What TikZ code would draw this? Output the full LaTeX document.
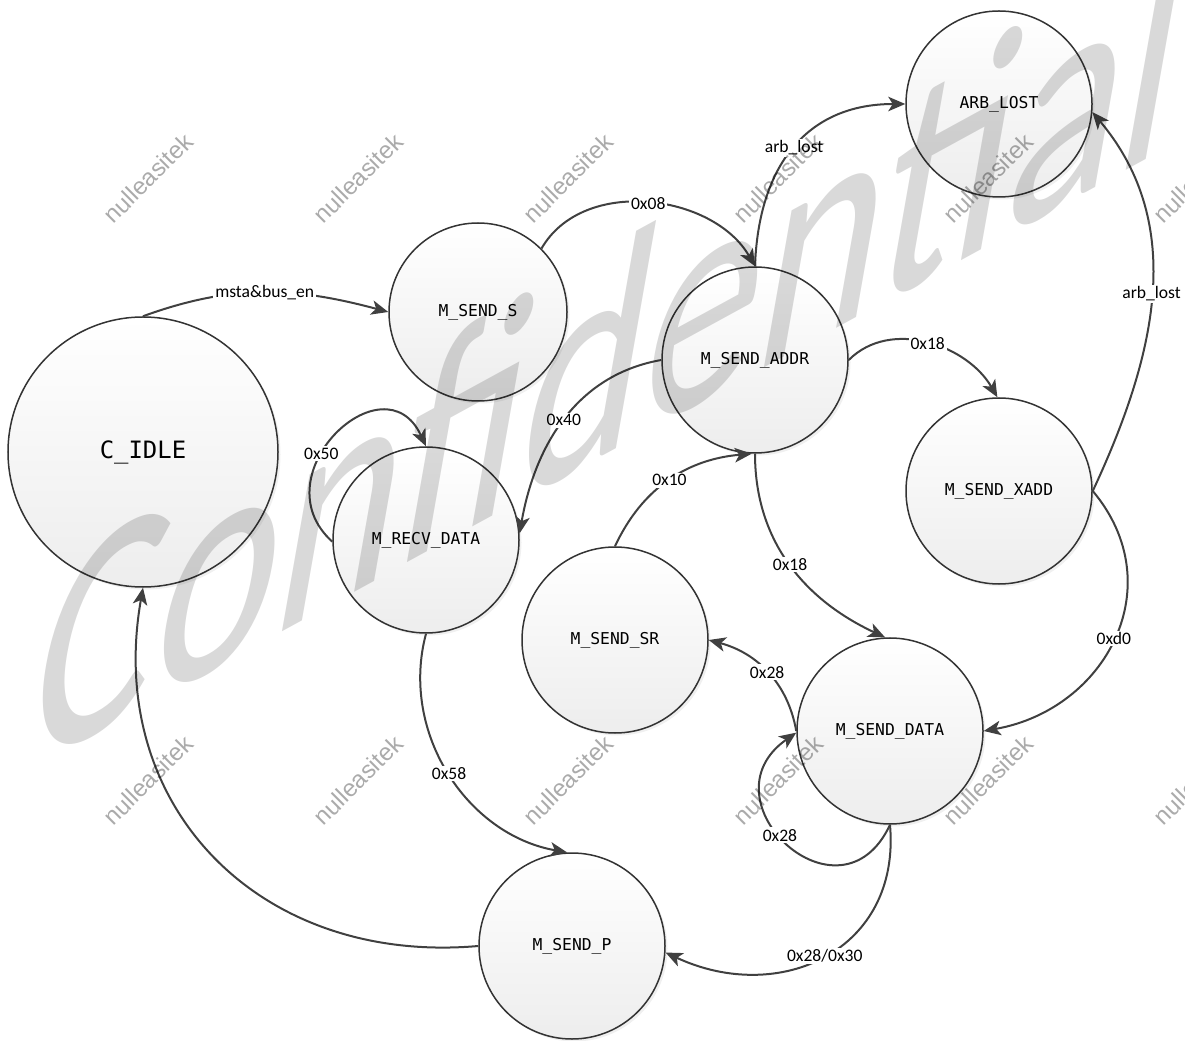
\documentclass[tikz,border=0pt]{standalone}
\usepackage{fontspec}
\setmainfont{Carlito}
\newfontfamily\statefont{DejaVu Sans Mono}
\newfontfamily\markfont{Liberation Sans}
\usetikzlibrary{arrows.meta}
\usetikzlibrary{shadows}

\begin{document}
\begin{tikzpicture}[x=0.2mm, y=0.2mm,
    fsm/.style={circle, draw=black!80, line width=0.3mm, inner sep=0pt, minimum size=37.2mm,
      top color=white, bottom color=black!7,
      drop shadow={opacity=0.12, shadow xshift=0.5mm, shadow yshift=-0.5mm},
      font=\statefont\fontsize{9.3}{11}\selectfont},
    trans/.style={draw=black!75, line width=0.4mm, -{Stealth[length=3.4mm, width=2.9mm, inset=0.9mm]}},
    lbl/.style={fill=white, inner sep=1pt, font=\fontsize{10}{12}\selectfont}]
  % page frame
  \useasboundingbox (0,0) rectangle (1185,-1041);
  % states
  \node[fsm, minimum size=54mm, font=\statefont\fontsize{13.6}{16}\selectfont] (idle) at (143,-452) {C\_IDLE};
  \node[fsm, minimum size=35.6mm] (sends) at (478,-312) {M\_SEND\_S};
  \node[fsm] (addr) at (755,-360) {M\_SEND\_ADDR};
  \node[fsm] (arb) at (999,-104) {ARB\_LOST};
  \node[fsm] (xadd) at (999,-491) {M\_SEND\_XADD};
  \node[fsm] (recv) at (426,-540) {M\_RECV\_DATA};
  \node[fsm] (sr) at (615,-640) {M\_SEND\_SR};
  \node[fsm] (data) at (890,-731) {M\_SEND\_DATA};
  \node[fsm] (sendp) at (572,-946) {M\_SEND\_P};
  % transitions
  \draw[trans] (idle.90) to[out=20, in=165] node[lbl]{msta\&bus\_en} (sends.180);
  \draw[trans] (sends.45) to[out=60, in=120] node[lbl]{0x08} (addr.90);
  \draw[trans] (addr.90) to[out=88, in=180, looseness=1.15] node[lbl]{arb\_lost} (arb.180);
  \draw[trans] (xadd.0) to[out=65, in=-50] node[lbl]{arb\_lost} (arb.-5);
  \draw[trans] (addr.0) to[out=45, in=120] node[lbl]{0x18} (xadd.91);
  \draw[trans] (xadd.0) to[out=-50, in=10, looseness=1.2] node[lbl]{0xd0} (data.0);
  \draw[trans] (addr.180) to[out=190, in=80] node[lbl]{0x40} (recv.4);
  \draw[trans] (recv.181) to[out=138, in=115, looseness=1.9] node[lbl, pos=0.4]{0x50} (recv.90);
  \draw[trans] (sr.90) to[out=65, in=185] node[lbl]{0x10} (addr.-92);
  \draw[trans] (addr.-90) to[out=-90, in=155] node[lbl]{0x18} (data.93);
  \draw[trans] (data.180) to[out=100, in=-15] node[lbl]{0x28} (sr.0);
  \draw[trans] (data.-90) to[out=-115, in=-145, looseness=2.3] node[lbl, pos=0.55]{0x28} (data.181);
  \draw[trans] (data.-90) to[out=-85, in=-25, looseness=1.25] node[lbl]{0x28/0x30} (sendp.-4);
  \draw[trans] (recv.-90) to[out=-105, in=170] node[lbl]{0x58} (sendp.93);
  \draw[trans] (sendp.180) to[out=185, in=-100, looseness=1.15] (idle.-90);
  % watermarks
  \begin{scope}
    \clip (0,0) rectangle (1185,-1041);
    \node[rotate=-10, yslant=0.8, xscale=0.62, anchor=base west, inner sep=0pt, text=black, text opacity=0.15,
      font=\fontsize{190}{190}\selectfont] (conf) at (20,-775) {Confidential};
    \foreach \col in {0,...,5} {
      \foreach \row/\y in {0/178, 1/780} {
        \node[rotate=45, text=black, text opacity=0.33, font=\markfont\fontsize{13.8}{16}\selectfont]
          (mark\row\col) at ({148+210*\col},{-\y}) {nulleasitek};
      }
    }
  \end{scope}
\end{tikzpicture}
\end{document}
